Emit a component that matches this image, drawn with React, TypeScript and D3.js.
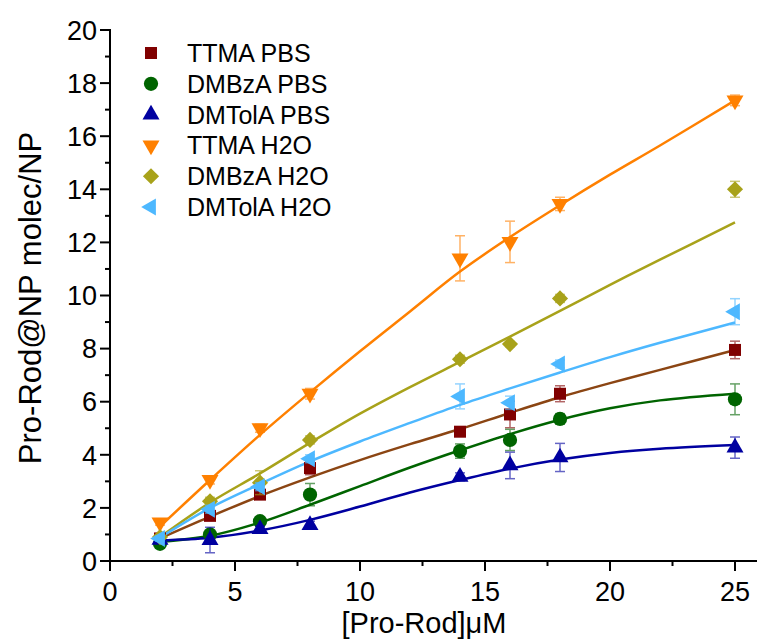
import { useEffect, useRef } from 'react';
import * as d3 from 'd3';

// measured concentrations
const concentrations = [2, 4, 6, 8, 14, 16, 18, 25];

const ttmaPbs = [0.85, 1.7, 2.5, 3.5, 4.87, 5.52, 6.3, 7.95];
const ttmaPbsErr = [0.1, 0.12, 0.15, 0.25, 0.15, 0.5, 0.3, 0.33];
const dmbzaPbs = [0.65, 1.0, 1.5, 2.5, 4.14, 4.56, 5.35, 6.09];
const dmbzaPbsErr = [0.1, 0.15, 0.1, 0.42, 0.27, 0.4, 0.2, 0.58];
const dmtolaPbs = [0.8, 0.79, 1.2, 1.35, 3.17, 3.6, 3.9, 4.27];
const dmtolaPbsErr = [0.1, 0.48, 0.12, 0.15, 0.15, 0.5, 0.53, 0.4];
const ttmaH2o = [1.45, 3.05, 5.0, 6.3, 11.4, 12.02, 13.45, 17.35];
const ttmaH2oErr = [0.1, 0.15, 0.15, 0.2, 0.85, 0.78, 0.25, 0.2];
const dmbzaH2o = [0.9, 2.25, 2.95, 4.56, 7.6, 8.17, 9.89, 14.0];
const dmbzaH2oErr = [0.1, 0.15, 0.45, 0.15, 0.15, 0.1, 0.15, 0.3];
const dmtolaH2o = [0.85, 1.95, 2.8, 3.85, 6.2, 5.96, 7.42, 9.39];
const dmtolaH2oErr = [0.1, 0.15, 0.15, 0.15, 0.47, 0.25, 0.15, 0.49];

// fitted curves
const fitX = [2, 4, 6, 8, 10, 12, 14, 16, 18, 20, 22, 25];
const ttmaPbsFit = [0.85, 1.67, 2.45, 3.15, 3.8, 4.4, 4.97, 5.58, 6.17, 6.7, 7.2, 7.95];
const dmbzaPbsFit = [0.72, 0.95, 1.45, 2.12, 2.82, 3.52, 4.17, 4.78, 5.32, 5.75, 6.05, 6.3];
const dmtolaPbsFit = [0.78, 0.88, 1.15, 1.55, 2.05, 2.58, 3.05, 3.48, 3.82, 4.07, 4.23, 4.37];
const ttmaH2oFit = [1.3, 3.05, 4.75, 6.35, 7.9, 9.4, 10.9, 12.2, 13.4, 14.55, 15.65, 17.35];
const dmbzaH2oFit = [0.9, 2.2, 3.3, 4.45, 5.55, 6.55, 7.5, 8.45, 9.42, 10.4, 11.35, 12.75];
const dmtolaH2oFit = [0.88, 2.0, 2.9, 3.75, 4.5, 5.2, 5.88, 6.5, 7.1, 7.68, 8.22, 8.98];

const seriesNames = ['TTMA PBS', 'DMBzA PBS', 'DMTolA PBS', 'TTMA H2O', 'DMBzA H2O', 'DMTolA H2O'];
const xTicks = [0, 5, 10, 15, 20, 25];
const yTicks = [0, 2, 4, 6, 8, 10, 12, 14, 16, 18, 20];

const series = [
  { name: seriesNames[0], y: ttmaPbs, err: ttmaPbsErr, fit: ttmaPbsFit, color: '#800000', fitColor: '#8B4513', shape: 'square' },
  { name: seriesNames[1], y: dmbzaPbs, err: dmbzaPbsErr, fit: dmbzaPbsFit, color: '#006400', fitColor: '#006400', shape: 'circle' },
  { name: seriesNames[2], y: dmtolaPbs, err: dmtolaPbsErr, fit: dmtolaPbsFit, color: '#0000A0', fitColor: '#0000A0', shape: 'up' },
  { name: seriesNames[3], y: ttmaH2o, err: ttmaH2oErr, fit: ttmaH2oFit, color: '#FF8000', fitColor: '#FF8000', shape: 'down' },
  { name: seriesNames[4], y: dmbzaH2o, err: dmbzaH2oErr, fit: dmbzaH2oFit, color: '#A8A21A', fitColor: '#A8A21A', shape: 'diamond' },
  { name: seriesNames[5], y: dmtolaH2o, err: dmtolaH2oErr, fit: dmtolaH2oFit, color: '#4DB8FF', fitColor: '#4DB8FF', shape: 'left' },
];

const FONT = "'Liberation Sans', Arial, sans-serif";

function markerPath(shape: string) {
  if (shape === 'square' ) return { d: d3.symbol(d3.symbolSquare, 144)(), rot: 0 };
  if (shape === 'circle') return { d: d3.symbol(d3.symbolCircle, 160)(), rot: 0 };
  if (shape === 'diamond') return { d: d3.symbol(d3.symbolSquare, 130)(), rot: 45 };
  const tri = d3.symbol(d3.symbolTriangle, 125)();
  if (shape === 'down') return { d: tri, rot: 180 };
  if (shape === 'left') return { d: tri, rot: -90 };
  return { d: tri, rot: 0 };
}

export default function App() {
  const svgRef = useRef<SVGSVGElement>(null);
  const width = 757;
  const height = 641;

  useEffect(() => {
    const svg = d3.select(svgRef.current);
    svg.selectAll('*').remove();

    const x = d3.scaleLinear().domain([0, 25]).range([110, 735]);
    const y = d3.scaleLinear().domain([0, 20]).range([561, 30]);

    // axes
    svg.append('line')
      .attr('x1', 110).attr('x2', width).attr('y1', 561).attr('y2', 561)
      .attr('stroke', '#000').attr('stroke-width', 2);
    svg.append('line')
      .attr('x1', 110).attr('x2', 110).attr('y1', 561).attr('y2', 29)
      .attr('stroke', '#000').attr('stroke-width', 2);

    const xMinor = d3.range(2.5, 26, 5);
    svg.selectAll('.xmaj').data(xTicks).enter().append('line')
      .attr('x1', d => x(d)).attr('x2', d => x(d)).attr('y1', 561).attr('y2', 571)
      .attr('stroke', '#000').attr('stroke-width', 2);
    svg.selectAll('.xmin').data(xMinor).enter().append('line')
      .attr('x1', d => x(d)).attr('x2', d => x(d)).attr('y1', 561).attr('y2', 566)
      .attr('stroke', '#000').attr('stroke-width', 2);
    svg.selectAll('.xlab').data(xTicks).enter().append('text')
      .attr('x', d => x(d)).attr('y', 601)
      .attr('text-anchor', 'middle').attr('font-family', FONT).attr('font-size', 27)
      .text(d => d);

    const yMinor = d3.range(1, 20, 2);
    svg.selectAll('.ymaj').data(yTicks).enter().append('line')
      .attr('x1', 100).attr('x2', 110).attr('y1', d => y(d)).attr('y2', d => y(d))
      .attr('stroke', '#000').attr('stroke-width', 2);
    svg.selectAll('.ymin').data(yMinor).enter().append('line')
      .attr('x1', 105).attr('x2', 110).attr('y1', d => y(d)).attr('y2', d => y(d))
      .attr('stroke', '#000').attr('stroke-width', 2);
    svg.selectAll('.ylab').data(yTicks).enter().append('text')
      .attr('x', 97).attr('y', d => y(d)).attr('dy', '0.36em')
      .attr('text-anchor', 'end').attr('font-family', FONT).attr('font-size', 27)
      .text(d => d);

    svg.append('text')
      .attr('x', 424).attr('y', 633)
      .attr('text-anchor', 'middle').attr('font-family', FONT).attr('font-size', 29)
      .text('[Pro-Rod]\u03bcM');
    svg.append('text')
      .attr('transform', 'translate(41,298) rotate(-90)')
      .attr('text-anchor', 'middle').attr('font-family', FONT).attr('font-size', 31)
      .text('Pro-Rod@NP molec/NP');

    // fit curves
    const line = d3.line<number>()
      .x((_, i) => x(fitX[i]))
      .y(d => y(d))
      .curve(d3.curveCatmullRom);
    series.forEach(s => {
      svg.append('path')
        .attr('d', line(s.fit))
        .attr('fill', 'none').attr('stroke', s.fitColor).attr('stroke-width', 2.5);
    });

    // error bars + markers
    series.forEach(s => {
      const g = svg.append('g');
      const m = markerPath(s.shape);
      concentrations.forEach((c, i) => {
        const cx = x(c);
        const top = y(s.y[i] + s.err[i]);
        const bot = y(s.y[i] - s.err[i]);
        const eb = g.append('g').attr('stroke', s.color).attr('stroke-width', 1.5).attr('opacity', 0.6);
        eb.append('line').attr('x1', cx).attr('x2', cx).attr('y1', top).attr('y2', bot);
        eb.append('line').attr('x1', cx - 5).attr('x2', cx + 5).attr('y1', top).attr('y2', top);
        eb.append('line').attr('x1', cx - 5).attr('x2', cx + 5).attr('y1', bot).attr('y2', bot);
      });
      g.selectAll('.pt').data(s.y).enter().append('path')
        .attr('d', m.d)
        .attr('transform', (d, i) => `translate(${x(concentrations[i])},${y(d)}) rotate(${m.rot})`)
        .attr('fill', s.color);
    });

    // legend
    const legend = svg.append('g');
    series.forEach((s, i) => {
      const ly = 53 + i * 30.8;
      const m = markerPath(s.shape);
      legend.append('path')
        .attr('d', m.d)
        .attr('transform', `translate(151,${ly}) rotate(${m.rot})`)
        .attr('fill', s.color);
      legend.append('text')
        .attr('x', 187).attr('y', ly).attr('dy', '0.36em')
        .attr('font-family', FONT).attr('font-size', 25)
        .text(s.name);
    });
  }, []);

  return (
    <svg ref={svgRef} width={width} height={height}
      style={{ position: 'absolute', left: 0, top: 0, background: '#fff' }} />
  );
}
